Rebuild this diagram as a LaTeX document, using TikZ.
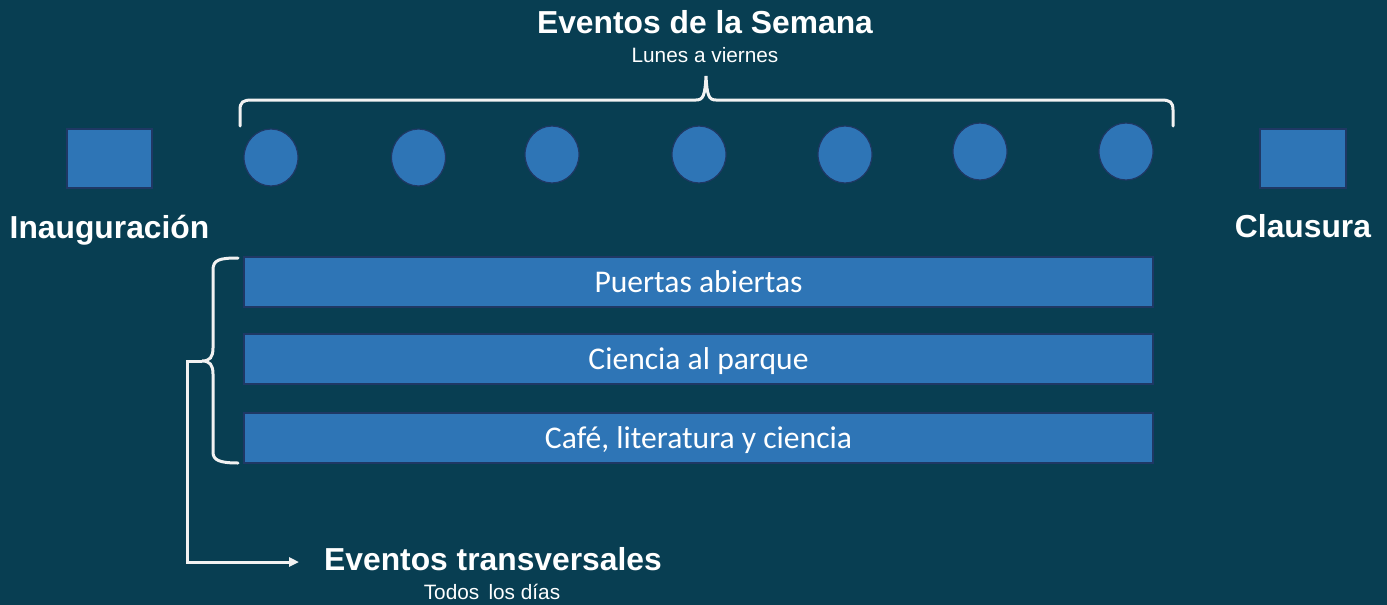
\documentclass[tikz,border=0pt]{standalone}
\usepackage{fontspec}
\setmainfont{Liberation Sans}
\newfontfamily\barfont{Carlito}
\usetikzlibrary{arrows.meta,shapes.geometric}
\definecolor{bgteal}{RGB}{8,62,82}
\definecolor{boxblue}{RGB}{46,117,182}
\definecolor{boxedge}{RGB}{31,56,100}
\definecolor{braceline}{RGB}{242,242,242}
\tikzset{
  >={Triangle[length=10pt,width=9pt]},
  every node/.style={inner sep=0pt,text=white},
  day/.style={ellipse,fill=boxblue,draw=boxedge,line width=1.2pt,minimum width=54,minimum height=57},
  endbox/.style={rectangle,fill=boxblue,draw=boxedge,line width=1.2pt,minimum width=85,minimum height=59},
  bar/.style={rectangle,fill=boxblue,draw=boxedge,line width=1.2pt,minimum width=909,minimum height=50,
    font=\barfont\fontsize{31.6}{36}\selectfont,text height=20pt,text depth=0pt},
  ttl/.style={anchor=base,font=\bfseries\fontsize{31.8}{38}\selectfont},
  sub/.style={anchor=base,font=\fontsize{20.8}{25}\selectfont},
  brace/.style={draw=braceline,line width=3pt,line cap=round},
  link/.style={draw=braceline,line width=3pt},
}

\begin{document}
\begin{tikzpicture}[x=1pt,y=-1pt]
  % background, also fixes the page size
  \fill[bgteal] (0,0) rectangle (1387,605);

  % headings
  \node[ttl] (week) at (705,34) {Eventos de la Semana};
  \node[sub] (weeksub) at (705,62) {Lunes a viernes};
  \node[ttl] (inaulbl) at (109.5,238) {Inauguración};
  \node[ttl] (clauslbl) at (1303,237) {Clausura};
  \node[ttl] (trans) at (493,570) {Eventos transversales};
  \node[sub] (transsub) at (492,599) {Todos\, los días};

  % opening and closing
  \node[endbox] (inau) at (109.5,158.5) {};
  \node[endbox,minimum width=86] (claus) at (1303,158.5) {};

  % days of the week
  \foreach \i/\cx/\cy in {1/271/157.5, 2/418.5/157.5, 3/552/154.5, 4/699/154.5,
                          5/845/154.5, 6/980/151.5, 7/1126/151.5}
    \node[day] (d\i) at (\cx,\cy) {};

  % cross events
  \node[bar] (b1) at (698.5,282) {Puertas abiertas};
  \node[bar] (b2) at (698.5,359) {Ciencia al parque};
  \node[bar] (b3) at (698.5,438) {Café, literatura y ciencia};

  % top brace over the days
  \draw[brace] (240,126) -- (240,110) .. controls (240,102) and (243,100) .. (252,100)
    -- (696,100) .. controls (703,100) and (705,96) .. (706,76)
    .. controls (707,96) and (709,100) .. (716,100) -- (1161,100)
    .. controls (1170,100) and (1173,102) .. (1173,110) -- (1173,126);

  % left brace over the bars
  \coordinate (ltip) at (202,361);
  \draw[brace] (238,258) .. controls (219,258) and (213,260) .. (213,270) -- (213,348)
    .. controls (213,357) and (210,361) .. (ltip)
    .. controls (210,361) and (213,365) .. (213,374) -- (213,452)
    .. controls (213,460) and (219,463) .. (238,463);

  % brace to the heading below
  \coordinate (arr) at (299,562);
  \draw[link,->] (ltip) -| (187,562) -- (arr);
\end{tikzpicture}
\end{document}
